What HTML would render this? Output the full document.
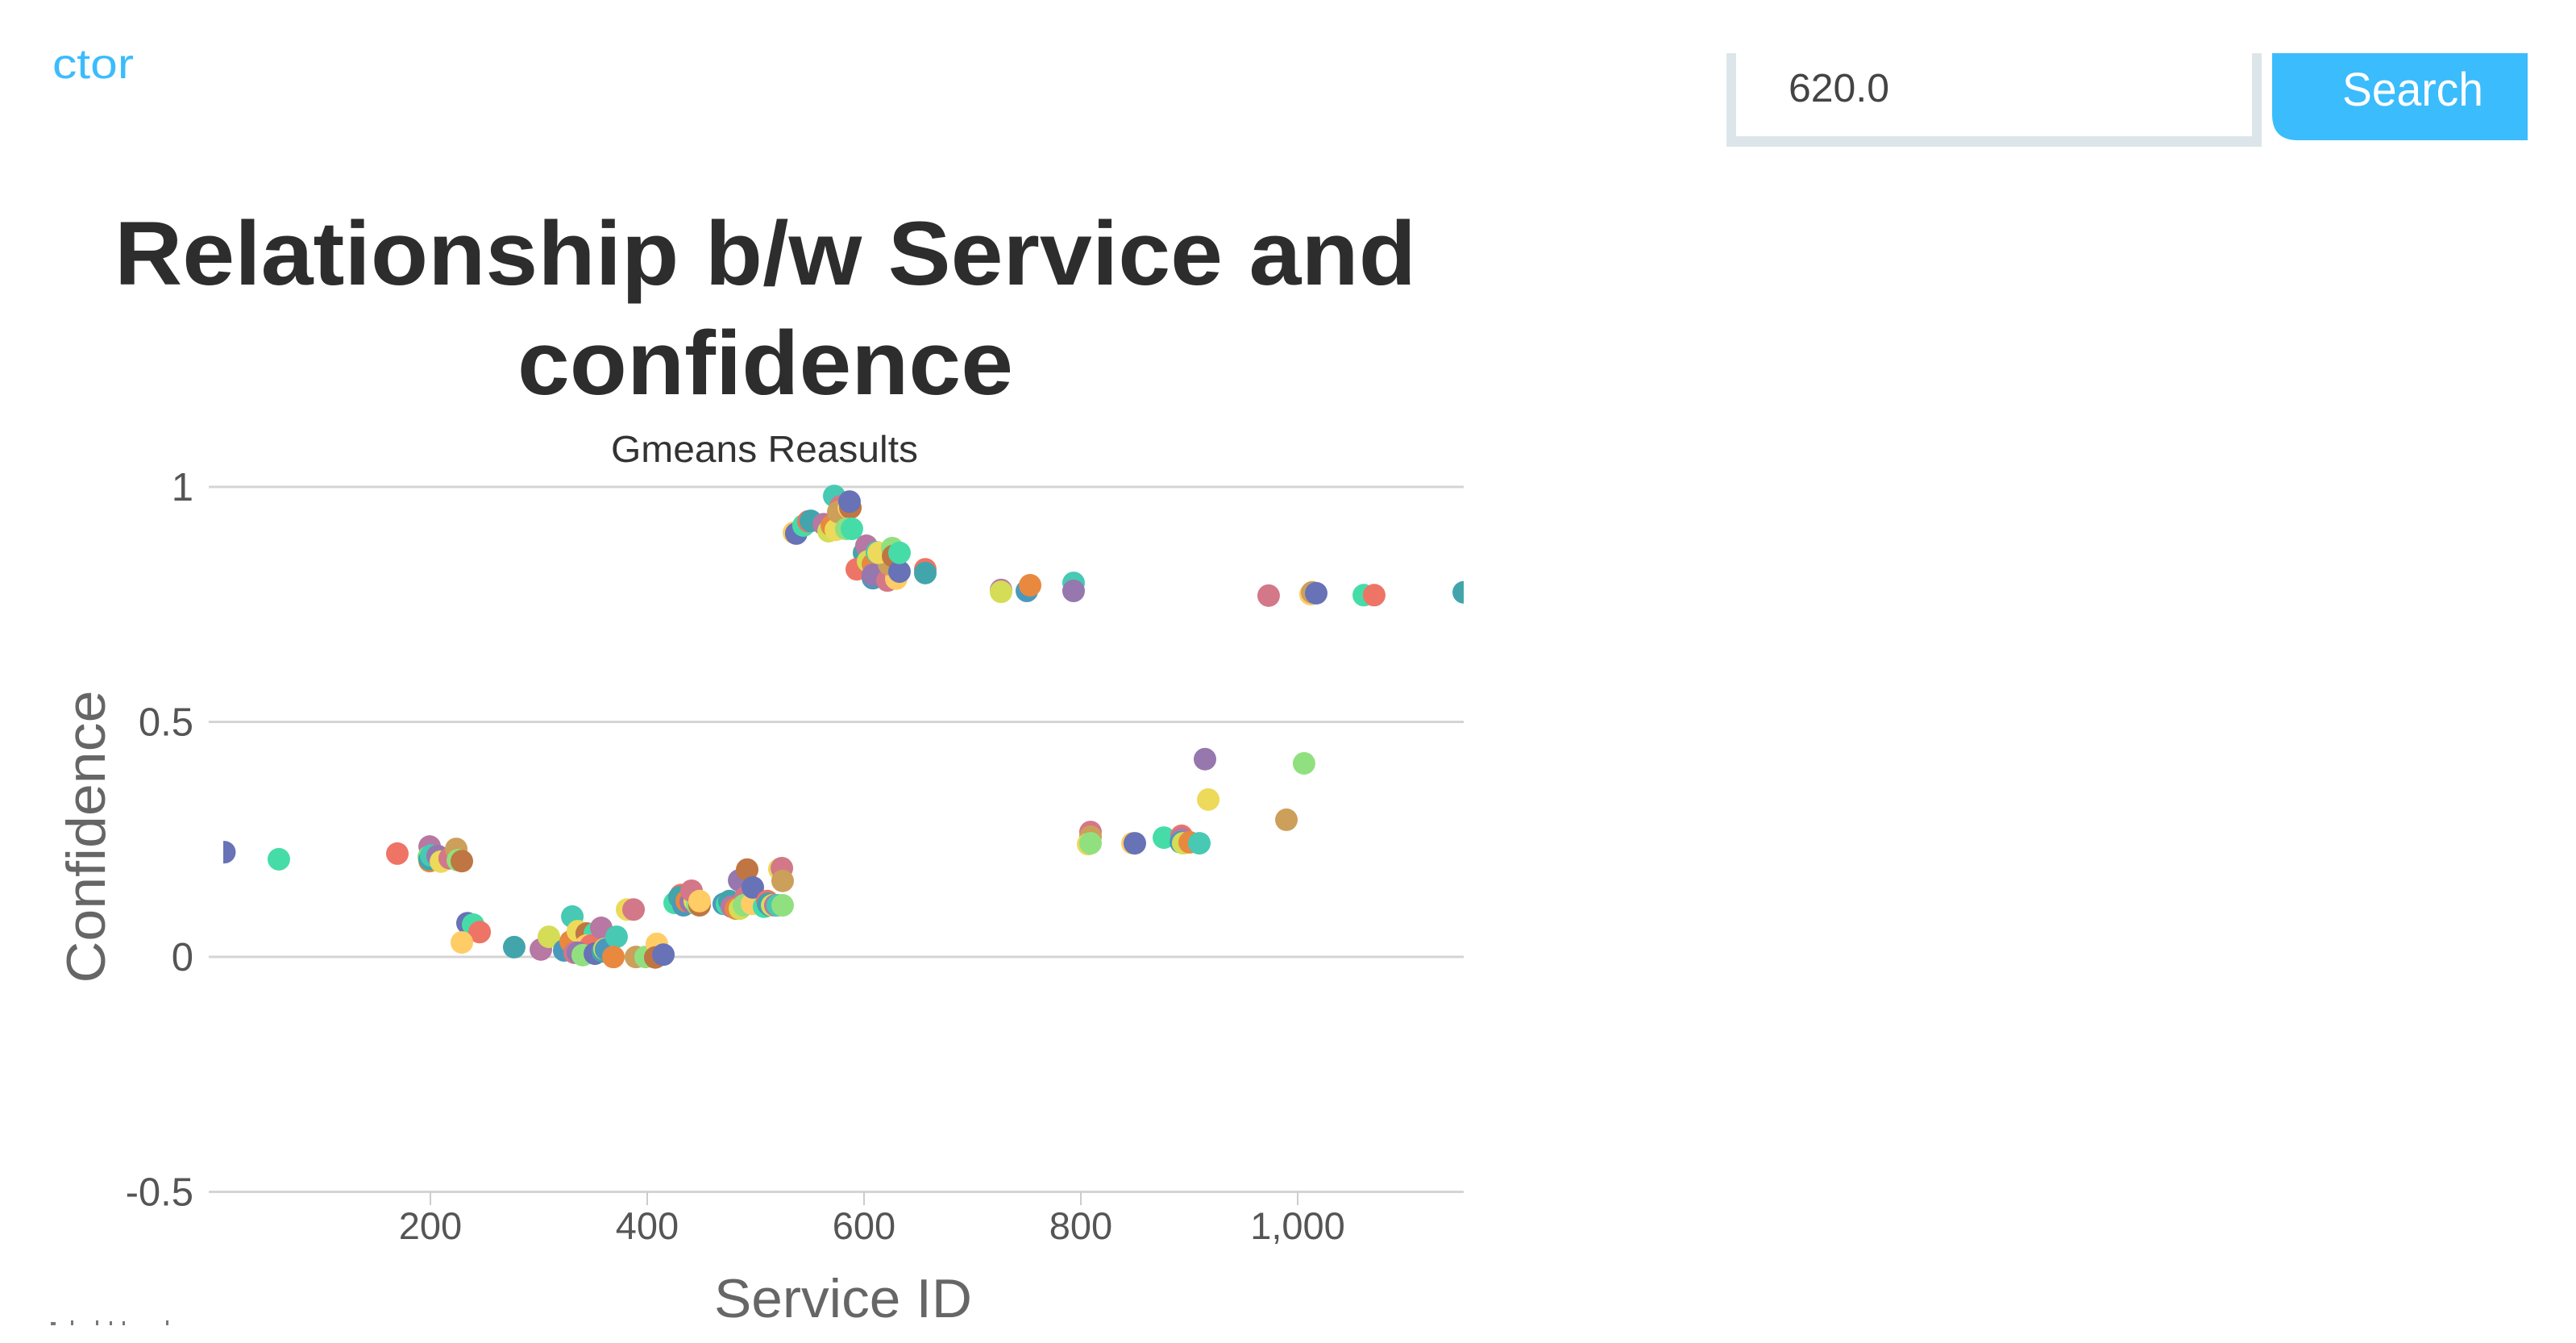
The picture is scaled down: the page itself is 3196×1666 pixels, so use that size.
<!DOCTYPE html>
<html lang="en">
<head>
<meta charset="utf-8">
<title>Relationship b/w Service and confidence</title>
<style>
  html, body { margin: 0; padding: 0; background: #fff; width: 3196px; height: 1666px; overflow: hidden; }
  svg { display: block; font-family: "Liberation Sans", sans-serif; }
</style>
</head>
<body>
<svg id="chart" xmlns="http://www.w3.org/2000/svg" width="3196" height="1666" viewBox="0 0 3196 1666">
  <defs>
    <clipPath id="plot-clip"><rect x="277" y="560" width="1539" height="960"/></clipPath>
  </defs>

  <text x="65" y="97" font-size="52" fill="#3bbcfc" textLength="101" lengthAdjust="spacingAndGlyphs">ctor</text>

  <path d="M2142 66 V182 H2806 V66 H2794 V169 H2154 V66 Z" fill="#dce6ea"/>
  <text x="2219" y="126" font-size="49" fill="#444" textLength="125" lengthAdjust="spacingAndGlyphs">620.0</text>
  <path d="M2819 66 H3136 V174 H2851 Q2819 174 2819 142 Z" fill="#3bbcfc"/>
  <text x="2906" y="131" font-size="58" fill="#fff" textLength="175" lengthAdjust="spacingAndGlyphs">Search</text>

  <text x="142" y="353" font-size="112" font-weight="700" fill="#2d2d2d" textLength="1615" lengthAdjust="spacingAndGlyphs">Relationship b/w Service and</text>
  <text x="642" y="489" font-size="112" font-weight="700" fill="#2d2d2d" textLength="615" lengthAdjust="spacingAndGlyphs">confidence</text>
  <text x="758" y="573" font-size="46" fill="#333" textLength="381" lengthAdjust="spacingAndGlyphs">Gmeans Reasults</text>

  <g id="grid"></g>
  <g id="y-ticks"></g>
  <g id="x-ticks"></g>
  <g id="dots" clip-path="url(#plot-clip)"></g>

  <text transform="translate(130 1038) rotate(-90)" text-anchor="middle" font-size="68" fill="#666" textLength="363" lengthAdjust="spacingAndGlyphs">Confidence</text>
  <text x="886" y="1634" font-size="68" fill="#666" textLength="320" lengthAdjust="spacingAndGlyphs">Service ID</text>

  <g fill="#777">
    <rect x="63" y="1640" width="6" height="4"/>
    <rect x="88" y="1638" width="3" height="6"/>
    <rect x="119" y="1638" width="3" height="6"/>
    <rect x="136" y="1639" width="3" height="5"/>
    <rect x="152" y="1639" width="3" height="5"/>
    <rect x="206" y="1638" width="3" height="6"/>
  </g>
</svg>

<script>
const yTickValues = [1, 0.5, 0, -0.5];
const yTickLabels = ["1", "0.5", "0", "-0.5"];
const xTickValues = [200, 400, 600, 800, 1000];
const xTickLabels = ["200", "400", "600", "800", "1,000"];

const palette = ["#6772b7", "#46dca8", "#ee7466", "#ffcc66", "#d4dd55", "#42a5ab", "#b778a3", "#4a99bc",
                 "#e9883f", "#d37888", "#edd95a", "#cc9f5a", "#91e07f", "#bf7642", "#9677ae", "#47c9b3"];

const serviceIds = [
  10, 60.2, 169.5, 199.3, 198.5, 199.3, 199.3, 200.7, 206.7, 209.7, 217.8, 223.8, 225.3, 229,
  234.2, 239.4, 245.4, 229, 277.3, 301.9, 309.3, 330.9, 323.4, 329.4, 336, 344.2, 351.7, 343.5, 348,
  333, 336, 340.5, 351.7, 357.6, 359, 360.6, 362, 371.7, 368.8, 389.6, 398.5, 408.9, 407.4, 414.9, 381.4, 387.4,
  425.3, 431.2, 429.7, 433.5, 436.4, 440.1, 443.9, 446.1, 440.9, 448.3, 448.3,
  470.6, 473.6, 475.8, 478, 481.8, 485.5, 484.8, 490.7, 489.2, 496.7, 492.2, 497.4,
  507.8, 510.8, 511.5, 513, 515.2, 518.2, 520.4, 524.9, 521.9, 524.2, 524.9,
  535.3, 537.5, 544.2, 548.7, 550.9, 562.8, 567.3, 570.3, 574, 572.5, 578.4, 576.2, 585.9, 587.4, 583.6, 586.6, 588.8,
  600, 602.2, 593.3, 603.7, 608.2, 608.2, 608.2, 621.6, 629.7, 623, 611.9, 613.4, 626, 626.8, 632.7, 632.7, 656.5, 656.5,
  726.4, 726.4, 750.2, 753.2, 793.3, 793.3, 973.2, 1011.9, 1013.4, 1017.1, 1061, 1070.6, 1153.2,
  808.9, 808.9, 806.7, 808.9, 847.6, 849.8, 876.6, 892.9, 892.9, 892.2, 894.4, 900.4, 909.3, 914.5, 1005.9, 917.5, 989.6
];

const confidenceValues = [
  0.221, 0.206, 0.218, 0.233, 0.211, 0.202, 0.206, 0.214, 0.213, 0.201, 0.208, 0.228, 0.204, 0.202,
  0.070, 0.067, 0.051, 0.029, 0.019, 0.014, 0.041, 0.084, 0.012, 0.031, 0.053, 0.048, 0.048, 0.022, 0.022,
  0.007, 0.007, 0.002, 0.005, 0.060, 0.010, 0.015, 0.014, 0.041, -0.002, -0.002, -0.002, 0.026, -0.003, 0.003, 0.099, 0.099,
  0.113, 0.130, 0.125, 0.108, 0.117, 0.115, 0.117, 0.110, 0.139, 0.108, 0.117,
  0.111, 0.110, 0.117, 0.105, 0.101, 0.101, 0.161, 0.125, 0.108, 0.111, 0.184, 0.146,
  0.105, 0.117, 0.111, 0.108, 0.108, 0.108, 0.108, 0.108, 0.185, 0.187, 0.160,
  0.901, 0.899, 0.916, 0.925, 0.926, 0.919, 0.904, 0.916, 0.907, 0.979, 0.957, 0.945, 0.954, 0.954, 0.909, 0.967, 0.909,
  0.858, 0.873, 0.823, 0.840, 0.834, 0.804, 0.811, 0.799, 0.803, 0.834, 0.859, 0.858, 0.868, 0.851, 0.818, 0.858, 0.823, 0.815,
  0.779, 0.775, 0.777, 0.789, 0.794, 0.777, 0.767, 0.770, 0.774, 0.772, 0.768, 0.768, 0.774,
  0.264, 0.254, 0.238, 0.240, 0.240, 0.240, 0.252, 0.256, 0.250, 0.242, 0.240, 0.242, 0.240, 0.419, 0.410, 0.333, 0.290
];

const clusterIds = [
  0, 1, 2, 6, 12, 8, 5, 15, 14, 10, 9, 11, 12, 13,
  0, 1, 2, 3, 5, 6, 4, 15, 7, 8, 10, 13, 1, 3, 2,
  9, 14, 12, 0, 6, 5, 4, 7, 15, 8, 11, 12, 3, 13, 0, 10, 9,
  1, 2, 5, 7, 8, 14, 10, 12, 9, 13, 3,
  7, 1, 5, 6, 8, 4, 14, 9, 12, 3, 13, 0,
  1, 2, 5, 7, 4, 6, 15, 12, 10, 9, 11,
  3, 0, 1, 2, 5, 6, 4, 8, 10, 15, 9, 11, 3, 13, 12, 0, 1,
  5, 6, 2, 4, 8, 7, 14, 9, 3, 11, 15, 10, 12, 13, 0, 1, 2, 5,
  6, 4, 7, 8, 15, 14, 9, 3, 11, 0, 1, 2, 5,
  9, 11, 10, 12, 3, 0, 1, 2, 6, 7, 4, 8, 15, 14, 12, 10, 11
];

function xScale(v) { return 265 + 1.345 * v; }
function yScale(v) { return 1186 - 583 * v; }

const svgNS = "http://www.w3.org/2000/svg";
const gridGroup = document.getElementById("grid");
const yTickGroup = document.getElementById("y-ticks");
const xTickGroup = document.getElementById("x-ticks");
const dotGroup = document.getElementById("dots");

yTickValues.forEach(function (value, i) {
  const line = document.createElementNS(svgNS, "line");
  
  
  line.setAttribute("x1", 259);
  line.setAttribute("x2", 1816);
  line.setAttribute("y1", yScale(value) + 1);
  line.setAttribute("y2", yScale(value) + 1);
  line.setAttribute("stroke", "#d4d4d4");
  line.setAttribute("stroke-width", 3);
  gridGroup.appendChild(line);

  const label = document.createElementNS(svgNS, "text");
  
  
  label.setAttribute("x", 240);
  label.setAttribute("y", yScale(value) + 18);
  label.setAttribute("text-anchor", "end");
  label.setAttribute("font-size", 49);
  label.setAttribute("fill", "#555");
  label.textContent = yTickLabels[i];
  yTickGroup.appendChild(label);
});

xTickValues.forEach(function (value, i) {
  const tick = document.createElementNS(svgNS, "line");
  
  
  tick.setAttribute("x1", xScale(value));
  tick.setAttribute("x2", xScale(value));
  tick.setAttribute("y1", 1478);
  tick.setAttribute("y2", 1495);
  tick.setAttribute("stroke", "#ccc");
  tick.setAttribute("stroke-width", 2);
  xTickGroup.appendChild(tick);

  const label = document.createElementNS(svgNS, "text");
  
  
  label.setAttribute("x", xScale(value));
  label.setAttribute("y", 1537);
  label.setAttribute("text-anchor", "middle");
  label.setAttribute("font-size", 47);
  label.setAttribute("fill", "#555");
  label.textContent = xTickLabels[i];
  xTickGroup.appendChild(label);
});

serviceIds.forEach(function (id, i) {
  const dot = document.createElementNS(svgNS, "circle");
  
  
  dot.setAttribute("cx", xScale(id));
  dot.setAttribute("cy", yScale(confidenceValues[i]));
  dot.setAttribute("r", 14);
  dot.setAttribute("fill", palette[clusterIds[i]]);
  dotGroup.appendChild(dot);
});
</script>
</body>
</html>
